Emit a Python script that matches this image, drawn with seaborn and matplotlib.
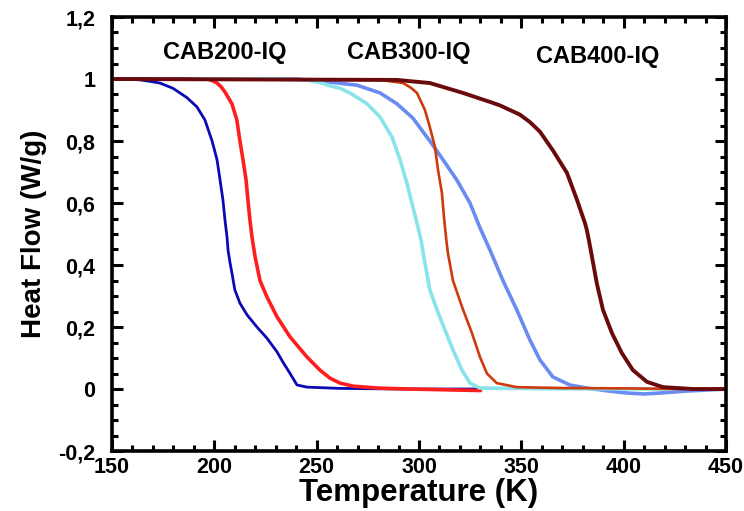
import numpy as np
import pandas as pd
import matplotlib
matplotlib.use("Agg")
import matplotlib.pyplot as plt
from matplotlib.ticker import MultipleLocator, FuncFormatter
import seaborn as sns

# Heat flow curves (W/g) versus temperature (K)
t_200a = [150, 158, 163.7, 168, 173.4, 179.8, 186.6, 191.5, 195.4, 198.9, 201.3, 202.8,
          204.2, 205.2, 206.2, 206.7, 207.6, 208.6, 210, 212.5, 216, 220.8, 225.7, 230.6,
          233.5, 237, 240.4, 245.3, 261, 290, 330]
hf_200a = [1.0, 1.0, 0.997, 0.993, 0.987, 0.97, 0.94, 0.91, 0.868, 0.80, 0.74, 0.674,
           0.61, 0.545, 0.49, 0.448, 0.41, 0.374, 0.32, 0.277, 0.239, 0.20, 0.164, 0.12,
           0.087, 0.05, 0.013, 0.006, 0.002, 0.0, 0.0]

t_200b = [150, 190, 196.4, 199, 201.3, 203.3, 205.2, 208.6, 211, 212.5, 214, 215.5, 216.4,
          217.4, 218.4, 219.9, 222.3, 225.7, 230.6, 237, 245.3, 251.6, 256.5, 261.4, 268,
          280, 295, 330]
hf_200b = [1.0, 1.0, 1.0, 0.995, 0.987, 0.975, 0.958, 0.92, 0.868, 0.80, 0.74, 0.674, 0.61,
           0.545, 0.49, 0.427, 0.35, 0.297, 0.233, 0.168, 0.103, 0.061, 0.035, 0.019, 0.009,
           0.003, 0.0, -0.005]

t_300a = [190, 228.6, 245, 252, 256.5, 261.4, 266.3, 274.6, 281, 286.8, 290.7, 294.1, 297,
          299.5, 301, 302.9, 305.3, 308.8, 312.7, 316.6, 321, 324.9, 329.8, 360, 421]
hf_300a = [1.0, 1.0, 0.997, 0.988, 0.978, 0.97, 0.955, 0.92, 0.877, 0.813, 0.74, 0.664,
           0.587, 0.523, 0.48, 0.406, 0.32, 0.255, 0.19, 0.126, 0.061, 0.019, 0.003, 0.001,
           0.0]

t_300b = [150, 240, 256.5, 269.7, 281, 289.2, 297, 305.3, 311.7, 318.5, 324.9, 329.8, 334.7,
          341, 347.8, 354.2, 359.1, 365.4, 373.7, 382, 392, 401.6, 410, 417.7, 430, 450]
hf_300b = [1.0, 1.0, 0.99, 0.98, 0.955, 0.92, 0.874, 0.80, 0.74, 0.674, 0.60, 0.52, 0.448,
           0.35, 0.255, 0.158, 0.094, 0.039, 0.013, 0.003, -0.006, -0.013, -0.016, -0.013,
           -0.007, 0.0]

t_300c = [150, 281, 292.2, 296, 299, 302.9, 305.3, 307.8, 309.3, 311.2, 312.2, 313.2, 314.1,
          316.6, 321, 325.9, 329.8, 333.2, 338, 347.8, 370, 400, 430]
hf_300c = [1.0, 0.997, 0.987, 0.972, 0.955, 0.90, 0.845, 0.78, 0.706, 0.632, 0.555, 0.49,
           0.439, 0.35, 0.265, 0.18, 0.103, 0.05, 0.019, 0.006, 0.003, 0.002, 0.0]

t_400 = [150, 289.2, 305.3, 321.5, 334.7, 339.5, 344.4, 349.3, 354.2, 359.1, 365.4, 372.3,
         377.2, 381.1, 382, 383, 384.5, 386.9, 389.9, 394.3, 399.1, 404.5, 411.4, 419.2,
         433.8, 450]
hf_400 = [1.0, 0.997, 0.987, 0.955, 0.926, 0.915, 0.90, 0.885, 0.861, 0.83, 0.77, 0.697,
          0.61, 0.535, 0.513, 0.48, 0.427, 0.34, 0.255, 0.18, 0.116, 0.061, 0.023, 0.006,
          0.0, 0.0]

sample_labels = ["CAB200-IQ", "CAB300-IQ", "CAB400-IQ"]
label_x = [205, 295, 387.5]
label_y = [1.087, 1.087, 1.071]

y_ticks = [-0.2, 0, 0.2, 0.4, 0.6, 0.8, 1.0, 1.2]
x_ticks = [150, 200, 250, 300, 350, 400, 450]

sns.set_theme(style="ticks")
plt.rcParams["font.family"] = ["Liberation Sans", "DejaVu Sans"]
plt.rcParams["font.weight"] = "bold"
for key in ("text.color", "axes.labelcolor", "xtick.color", "ytick.color",
            "axes.edgecolor"):
    plt.rcParams[key] = "black"

fig = plt.figure(figsize=(7.44, 5.11), dpi=100)
ax = fig.add_axes([112 / 744, 60 / 511, 614 / 744, 434 / 511])

curves = [
    (t_200a, hf_200a, "#0A0AB4", 2.0),
    (t_200b, hf_200b, "#FF1E1E", 2.6),
    (t_300b, hf_300b, "#6A8CF2", 2.6),
    (t_300a, hf_300a, "#88E4EA", 2.6),
    (t_300c, hf_300c, "#CF3A0C", 1.9),
    (t_400, hf_400, "#6B0A0A", 2.8),
]
for t, hf, col, lw in curves:
    df = pd.DataFrame({"T": t, "HF": hf})
    sns.lineplot(data=df, x="T", y="HF", color=col, linewidth=lw, ax=ax,
                 estimator=None, sort=False)

for txt, lx, ly in zip(sample_labels, label_x, label_y):
    ax.text(lx, ly, txt, ha="center", va="center", fontsize=17, fontweight="bold",
            color="black")

ax.set_xlim(150, 450)
ax.set_ylim(-0.2, 1.2)
ax.set_xticks(x_ticks)
ax.set_yticks(y_ticks)
ax.xaxis.set_minor_locator(MultipleLocator(10))
ax.yaxis.set_minor_locator(MultipleLocator(0.05))


def comma_fmt(v, pos):
    s = f"{v:.1f}".rstrip("0").rstrip(".")
    if s == "-0":
        s = "0"
    return s.replace(".", ",")


ax.yaxis.set_major_formatter(FuncFormatter(comma_fmt))
ax.tick_params(which="both", direction="in", top=True, right=True, width=2.2,
               labelsize=15.5, color="black", labelcolor="black")
ax.tick_params(axis="x", which="major", pad=4)
ax.tick_params(axis="y", which="major", pad=12)
ax.tick_params(which="major", length=8)
ax.tick_params(which="minor", length=4.5)
for lab in ax.get_xticklabels() + ax.get_yticklabels():
    lab.set_fontweight("bold")
for sp in ax.spines.values():
    sp.set_linewidth(2.6)
    sp.set_color("black")

ax.set_xlabel("Temperature (K)", fontsize=22.5, fontweight="bold", labelpad=0,
              color="black")
ax.set_ylabel("Heat Flow (W/g)", fontsize=20, fontweight="bold", labelpad=8,
              color="black")

fig.savefig("out.png", dpi=100)
